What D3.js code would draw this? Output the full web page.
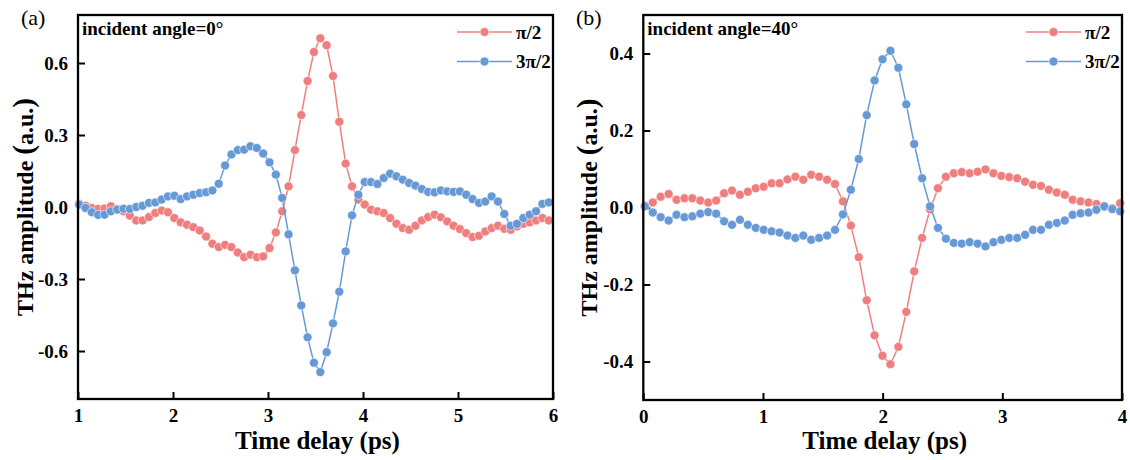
<!DOCTYPE html>
<html>
<head>
<meta charset="utf-8">
<script src="https://cdn.jsdelivr.net/npm/d3@7"></script>
<style>
  body { margin: 0; background: #fff; }
  svg { display: block; }
  text { font-family: "Liberation Serif", "Times New Roman", serif; fill: #000; }
  .axis text { font-weight: 700; font-size: 19px; }
</style>
</head>
<body>
<svg id="chart" width="1130" height="460"></svg>
<script>
// ---- Sampling grids (ps) ----
const startA = 1.012, stepA = 0.0668;   // panel (a): 75 samples
const startB = 0.013, stepB = 0.0662;   // panel (b): 61 samples

// ---- Panel (a): incident angle 0° ----
const redA = [
  0.014, 0.005, -0.004, -0.008, -0.006, 0.003, -0.008, -0.018, -0.036, -0.056,
  -0.056, -0.042, -0.025, -0.015, -0.022, -0.046, -0.064, -0.074, -0.084, -0.098,
  -0.123, -0.153, -0.167, -0.158, -0.167, -0.190, -0.209, -0.199, -0.209, -0.206,
  -0.171, -0.106, -0.018, 0.086, 0.237, 0.383, 0.525, 0.646, 0.703, 0.674,
  0.546, 0.355, 0.181, 0.086, 0.031, 0.010, -0.011, -0.018, -0.025, -0.046,
  -0.070, -0.088, -0.095, -0.078, -0.056, -0.042, -0.032, -0.043, -0.060, -0.078,
  -0.092, -0.109, -0.125, -0.120, -0.102, -0.088, -0.078, -0.091, -0.095, -0.081,
  -0.070, -0.064, -0.056, -0.046, -0.056
];
const blueA = [
  0.010, -0.004, -0.022, -0.033, -0.032, -0.018, -0.011, -0.007, -0.008, 0.000,
  0.005, 0.017, 0.019, 0.031, 0.044, 0.047, 0.033, 0.044, 0.051, 0.058,
  0.061, 0.069, 0.097, 0.173, 0.219, 0.237, 0.239, 0.253, 0.246, 0.223,
  0.186, 0.135, 0.038, -0.114, -0.264, -0.410, -0.543, -0.649, -0.688, -0.605,
  -0.485, -0.353, -0.185, -0.035, 0.051, 0.104, 0.104, 0.096, 0.121, 0.139,
  0.128, 0.114, 0.100, 0.089, 0.075, 0.063, 0.061, 0.069, 0.065, 0.063,
  0.065, 0.051, 0.033, 0.017, 0.023, 0.044, 0.023, -0.029, -0.078, -0.070,
  -0.046, -0.032, -0.018, 0.013, 0.019
];

// ---- Panel (b): incident angle 40° ----
const redB = [
  0.005, 0.013, 0.028, 0.035, 0.020, 0.024, 0.024, 0.018, 0.013, 0.018,
  0.037, 0.044, 0.033, 0.041, 0.050, 0.054, 0.063, 0.063, 0.073, 0.080,
  0.072, 0.085, 0.080, 0.072, 0.061, 0.016, -0.047, -0.129, -0.241, -0.332,
  -0.385, -0.407, -0.362, -0.271, -0.166, -0.079, -0.005, 0.050, 0.080, 0.089,
  0.092, 0.089, 0.093, 0.099, 0.089, 0.082, 0.079, 0.076, 0.067, 0.059,
  0.056, 0.046, 0.039, 0.033, 0.020, 0.016, 0.013, 0.009, 0.001, -0.002,
  0.011
];
const blueB = [
  0.003, -0.013, -0.025, -0.034, -0.019, -0.025, -0.023, -0.016, -0.012, -0.016,
  -0.036, -0.045, -0.032, -0.045, -0.053, -0.058, -0.062, -0.065, -0.073, -0.079,
  -0.073, -0.084, -0.079, -0.073, -0.058, -0.018, 0.046, 0.126, 0.240, 0.330,
  0.385, 0.407, 0.363, 0.268, 0.165, 0.076, 0.003, -0.053, -0.081, -0.092,
  -0.094, -0.090, -0.094, -0.101, -0.090, -0.084, -0.079, -0.079, -0.071, -0.058,
  -0.058, -0.045, -0.040, -0.034, -0.019, -0.015, -0.013, -0.006, 0.003, -0.004,
  -0.010
];

// ---- Ticks and labels ----
const xTicksA = [1, 2, 3, 4, 5, 6];
const yTicksA = [-0.6, -0.3, 0, 0.3, 0.6];
const yTickLabelsA = ["-0.6", "-0.3", "0.0", "0.3", "0.6"];
const xTicksB = [0, 1, 2, 3, 4];
const yTicksB = [-0.4, -0.2, 0, 0.2, 0.4];
const yTickLabelsB = ["-0.4", "-0.2", "0.0", "0.2", "0.4"];

const seriesNames = ["\u03c0/2", "3\u03c0/2"];
const colors = ["#EF7F7F", "#6699D6"];

const svg = d3.select("#chart");
svg.append("rect").attr("width", 1130).attr("height", 460).attr("fill", "#fff");

function drawPanel(cfg) {
  const g = svg.append("g");
  const x = d3.scaleLinear().domain(cfg.xDomain).range([cfg.left, cfg.right]);
  const y = d3.scaleLinear().domain(cfg.yDomain).range([cfg.bottom, cfg.top]);

  // axes (ticks point inward)
  const xAxis = d3.axisBottom(x).tickValues(cfg.xTicks).tickFormat(d3.format("d"))
    .tickSizeInner(-7).tickSizeOuter(0).tickPadding(10);
  const yAxis = d3.axisLeft(y).tickValues(cfg.yTicks)
    .tickFormat((d, i) => cfg.yLabels[i])
    .tickSizeInner(-7).tickSizeOuter(0).tickPadding(10);

  const gx = g.append("g").attr("class", "axis").attr("transform", `translate(0,${cfg.bottom})`).call(xAxis);
  const gy = g.append("g").attr("class", "axis").attr("transform", `translate(${cfg.left},0)`).call(yAxis);
  [gx, gy].forEach(a => {
    a.attr("font-family", null).attr("font-size", null);
    a.select(".domain").remove();
    a.selectAll(".tick line").attr("stroke", "#000").attr("stroke-width", 2);
    a.selectAll(".tick text").attr("fill", "#000");
  });

  // series: lines then markers, second series on top
  cfg.series.forEach((vals, k) => {
    const pts = vals.map((v, i) => ({ t: cfg.start + i * cfg.step, v }));
    const line = d3.line().x(d => x(d.t)).y(d => y(d.v));
    g.append("path").datum(pts).attr("d", line)
      .attr("fill", "none").attr("stroke", colors[k]).attr("stroke-width", 1.5);
    g.append("g").selectAll("circle").data(pts).join("circle")
      .attr("cx", d => x(d.t)).attr("cy", d => y(d.v)).attr("r", 4.5)
      .attr("fill", colors[k]).attr("stroke", "#fff").attr("stroke-width", 0.6);
  });

  // frame
  g.append("rect")
    .attr("x", cfg.left).attr("y", cfg.top)
    .attr("width", cfg.right - cfg.left).attr("height", cfg.bottom - cfg.top)
    .attr("fill", "none").attr("stroke", "#000").attr("stroke-width", 2.3);

  // legend
  seriesNames.forEach((name, k) => {
    const ly = cfg.top + 17 + k * 29.5;
    const lx = cfg.right - 96;
    g.append("line").attr("x1", lx).attr("x2", lx + 55).attr("y1", ly).attr("y2", ly)
      .attr("stroke", colors[k]).attr("stroke-width", 1.5);
    g.append("circle").attr("cx", lx + 27.5).attr("cy", ly).attr("r", 4.5)
      .attr("fill", colors[k]).attr("stroke", "#fff").attr("stroke-width", 0.6);
    g.append("text").attr("x", lx + 59).attr("y", ly + 6.5)
      .style("font-weight", "bold").style("font-size", "19px").text(name);
  });

  // annotation inside the frame
  g.append("text").attr("x", cfg.left + 4).attr("y", cfg.top + 20)
    .style("font-weight", "bold").style("font-size", "19px").text(cfg.note);

  // panel letter
  g.append("text").attr("x", cfg.letterX).attr("y", 25)
    .style("font-size", "22px").text(cfg.letter);

  // x title
  g.append("text").attr("x", (cfg.left + cfg.right) / 2 + 2).attr("y", 449)
    .attr("text-anchor", "middle").style("font-weight", "bold").style("font-size", "25px")
    .text("Time delay (ps)");

  // y title (bigger parentheses)
  const yt = g.append("text")
    .attr("transform", `translate(${cfg.yTitleX},${(cfg.top + cfg.bottom) / 2}) rotate(-90)`)
    .attr("text-anchor", "middle").style("font-weight", "bold").style("font-size", "24px");
  yt.append("tspan").text("THz amplitude ");
  yt.append("tspan").style("font-size", "29px").text("(");
  yt.append("tspan").text("a.u.");
  yt.append("tspan").style("font-size", "29px").text(")");
}

drawPanel({
  left: 78, right: 553, top: 15, bottom: 399,
  xDomain: [1, 6], yDomain: [-0.8, 0.8],
  xTicks: xTicksA, yTicks: yTicksA, yLabels: yTickLabelsA,
  start: startA, step: stepA, series: [redA, blueA],
  note: "incident angle=0\u00b0", letter: "(a)", letterX: 21, yTitleX: 33
});

drawPanel({
  left: 643.3, right: 1122, top: 15, bottom: 400,
  xDomain: [0, 4], yDomain: [-0.5, 0.5],
  xTicks: xTicksB, yTicks: yTicksB, yLabels: yTickLabelsB,
  start: startB, step: stepB, series: [redB, blueB],
  note: "incident angle=40\u00b0", letter: "(b)", letterX: 576, yTitleX: 597
});
</script>
</body>
</html>
